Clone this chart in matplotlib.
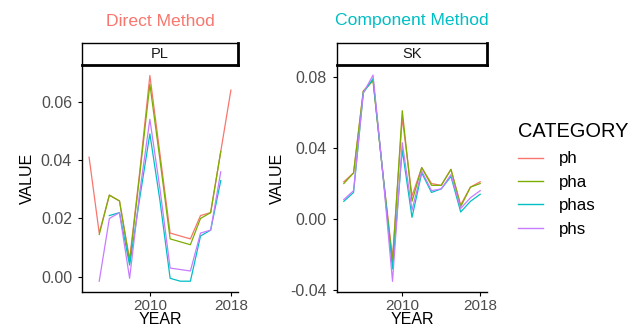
import numpy as np
import matplotlib
matplotlib.use("Agg")
import matplotlib.pyplot as plt
from matplotlib.lines import Line2D

plt.rcParams['font.family'] = ['Liberation Sans', 'DejaVu Sans']

nan = np.nan
years = [2004, 2005, 2006, 2007, 2008, 2009, 2010, 2011, 2012, 2013, 2014, 2015, 2016, 2017, 2018]
categories = ['ph', 'pha', 'phas', 'phs']
colors = ['#F8766D', '#7CAE00', '#00BFC4', '#C77CFF']

# PL - direct method
pl_ph = [0.041, 0.015, 0.028, 0.026, 0.006, 0.036, 0.069, 0.042, 0.015, 0.014, 0.013, 0.021, 0.022, 0.043, 0.064]
pl_pha = [nan, 0.0145, 0.028, 0.026, 0.005, 0.035, 0.066, 0.040, 0.013, 0.012, 0.011, 0.020, 0.022, 0.043, nan]
pl_phas = [nan, nan, 0.021, 0.022, 0.004, 0.027, 0.049, 0.026, -0.0005, -0.0015, -0.0015, 0.014, 0.016, 0.033, nan]
pl_phs = [nan, -0.0015, 0.020, 0.022, -0.0005, 0.029, 0.054, 0.030, 0.003, 0.0025, 0.002, 0.015, 0.016, 0.036, nan]

# SK - component method
sk_ph = [0.021, 0.026, 0.072, 0.078, 0.026, -0.022, 0.057, 0.013, 0.029, 0.020, 0.019, 0.028, 0.008, 0.018, 0.021]
sk_pha = [0.020, 0.026, 0.072, 0.078, 0.026, -0.024, 0.061, 0.010, 0.029, 0.019, 0.019, 0.028, 0.007, 0.018, 0.020]
sk_phas = [0.010, 0.015, 0.071, 0.079, 0.026, -0.028, 0.039, 0.001, 0.026, 0.015, 0.017, 0.024, 0.004, 0.010, 0.014]
sk_phs = [0.011, 0.016, 0.071, 0.081, 0.026, -0.035, 0.043, 0.005, 0.027, 0.016, 0.017, 0.025, 0.006, 0.012, 0.016]

panels = [
    ('PL', 'Direct Method', '#F8766D', [pl_ph, pl_pha, pl_phas, pl_phs],
     [0.0, 0.02, 0.04, 0.06], (-0.0052, 0.0726), 82, 156),
    ('SK', 'Component Method', '#00BFC4', [sk_ph, sk_pha, sk_phas, sk_phs],
     [-0.04, 0.0, 0.04, 0.08], (-0.041, 0.0867), 337, 150),
]

W, H = 634, 327
fig = plt.figure(figsize=(W / 100, H / 100), dpi=100)

for name, title, tcol, series, yticks, ylim, x0, w in panels:
    ax = fig.add_axes([x0 / W, 1 - 292 / H, w / W, 227 / H])
    for vals, c in zip(series, colors):
        ax.plot(years, vals, color=c, lw=0.9)
    ax.set_xlim(2003.3, 2018.7)
    ax.set_ylim(*ylim)
    ax.set_xticks([2010, 2018])
    ax.set_yticks(yticks)
    ax.set_yticklabels(['%.2f' % t for t in yticks])
    for s in ['top', 'right']:
        ax.spines[s].set_visible(False)
    for s in ['left', 'bottom']:
        ax.spines[s].set_linewidth(1.0)
    ax.tick_params(length=3.2, width=0.8, labelsize=11.5, labelcolor='#4D4D4D')
    ax.tick_params(axis='x', pad=1.5, labelsize=11)
    ax.tick_params(axis='y', pad=4.0)
    ax.set_xlabel('YEAR', fontsize=11.5, va='baseline')
    ax.xaxis.set_label_coords(0.5, (292 - 323.5) / 227)
    ax.set_ylabel('VALUE', fontsize=11.5, labelpad=4)

    # facet strip
    sax = fig.add_axes([x0 / W, 1 - 65 / H, w / W, 22 / H])
    sax.set_xticks([])
    sax.set_yticks([])
    for s in ['left', 'top']:
        sax.spines[s].set_linewidth(1.0)
    for s in ['right', 'bottom']:
        sax.spines[s].set_linewidth(2.0)
    sax.text(0.5, 0.5, name, ha='center', va='center', fontsize=10.5, color='#1A1A1A')

    fig.text((x0 + w / 2) / W, 1 - 21 / H, title, ha='center', va='center', fontsize=12.6, color=tcol)

handles = [Line2D([], [], color=c, lw=1.0) for c in colors]
leg = fig.legend(handles, categories, loc='upper left', bbox_to_anchor=(518 / W, 1 - 124 / H),
                 frameon=False, fontsize=12.2, title='CATEGORY', title_fontsize=14.4,
                 handlelength=1.5, handletextpad=0.9, labelspacing=0.5, borderpad=0,
                 borderaxespad=0, alignment='left')
leg.get_title().set_position((0, 2))

fig.savefig('out.png', dpi=100)
